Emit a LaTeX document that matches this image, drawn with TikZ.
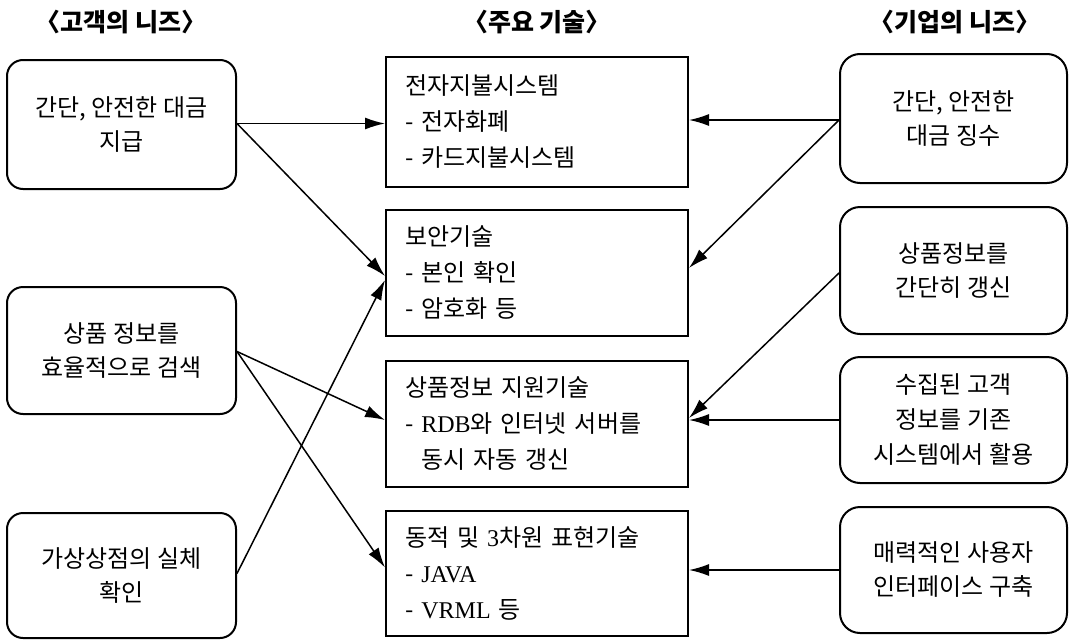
\documentclass[tikz,border=0pt]{standalone}
\usepackage{fontspec}
\setmainfont{Noto Sans CJK KR}
\newfontfamily\lat{Liberation Serif}
\usetikzlibrary{arrows.meta,calc}
\begin{document}
\begin{tikzpicture}[x=1pt,y=-1pt,
  needbox/.style={draw,line width=2pt,rounded corners=16pt,align=center,inner sep=0pt,
    font=\fontsize{24}{34}\selectfont},
  techbox/.style={draw,line width=2pt,align=left,inner xsep=19pt,inner ysep=0pt,
    minimum width=302pt,text width=264pt,font=\fontsize{24}{36}\selectfont},
  header/.style={font=\fontsize{25}{28}\selectfont\bfseries},
  link/.style={line width=1.5pt,-{Latex[length=20pt,width=12pt]}}]
\useasboundingbox (0,0) rectangle (1069,640);
% headers
\node[header] (h1) at (121,22) {〈고객의 니즈〉};
\node[header] (h2) at (537,22) {〈주요 기술〉};
\node[header] (h3) at (955,22) {〈기업의 니즈〉};
% left needs
\node[needbox,minimum width=229pt,minimum height=129pt] (L1) at (121.5,124.5) {간단, 안전한 대금\\지급};
\node[needbox,minimum width=229pt,minimum height=127pt] (L2) at (121.5,350.5) {상품 정보를\\효율적으로 검색};
\node[needbox,minimum width=229pt,minimum height=125pt] (L3) at (121.5,575.5) {가상상점의 실체\\확인};
% technologies
\node[techbox,minimum height=130pt] (C1) at (537,122) {전자지불시스템\\- 전자화폐\\- 카드지불시스템};
\node[techbox,minimum height=126pt] (C2) at (537,273) {보안기술\\- 본인 확인\\- 암호화 등};
\node[techbox,minimum height=126pt] (C3) at (537,424) {상품정보 지원기술\\- {\lat RDB}와 인터넷 서버를\\\ \ 동시 자동 갱신};
\node[techbox,minimum height=125pt] (C4) at (537,573.5) {동적 및 {\lat 3}차원 표현기술\\- {\lat JAVA}\\- {\lat VRML} 등};
% right needs
\node[needbox,rounded corners=20pt,minimum width=227pt,minimum height=129pt] (R1) at (953.5,118.5) {간단, 안전한\\대금 징수};
\node[needbox,rounded corners=20pt,minimum width=227pt,minimum height=127pt] (R2) at (953.5,270.5) {상품정보를\\간단히 갱신};
\node[needbox,rounded corners=20pt,minimum width=227pt,minimum height=126pt,font=\fontsize{24}{35}\selectfont] (R3) at (953.5,420) {수집된 고객\\정보를 기존\\시스템에서 활용};
\node[needbox,rounded corners=20pt,minimum width=227pt,minimum height=126pt] (R4) at (953.5,570) {매력적인 사용자\\인터페이스 구축};
% left connectors
\draw[link] ($(L1.east)+(0,-1)$) -- ($(L1.east -| C1.west)+(0,-1)$);
\draw[link] ($(L1.east)+(0,-1)$) -- ($(C2.west)+(0,3)$);
\draw[link] ($(L2.east)+(0,1)$) -- ($(C3.west)+(0,-4)$);
\draw[link] ($(L2.east)+(0,1)$) -- ($(C4.west)+(0,-6)$);
\draw[link] ($(L3.east)+(0,-2)$) -- ($(C2.west)+(0,7)$);
% right connectors
\draw[link] ($(R1.west)+(0,1.5)$) -- ($(R1.west -| C1.east)+(0,1.5)$);
\draw[link] ($(R1.west)+(0,1.5)$) -- ($(C2.east)+(0,-5)$);
\draw[link] ($(R2.west)+(0,2.5)$) -- ($(C3.east)+(0,-6)$);
\draw[link] (R3.west) -- (R3.west -| C3.east);
\draw[link] (R4.west) -- (R4.west -| C4.east);
\end{tikzpicture}
\end{document}
